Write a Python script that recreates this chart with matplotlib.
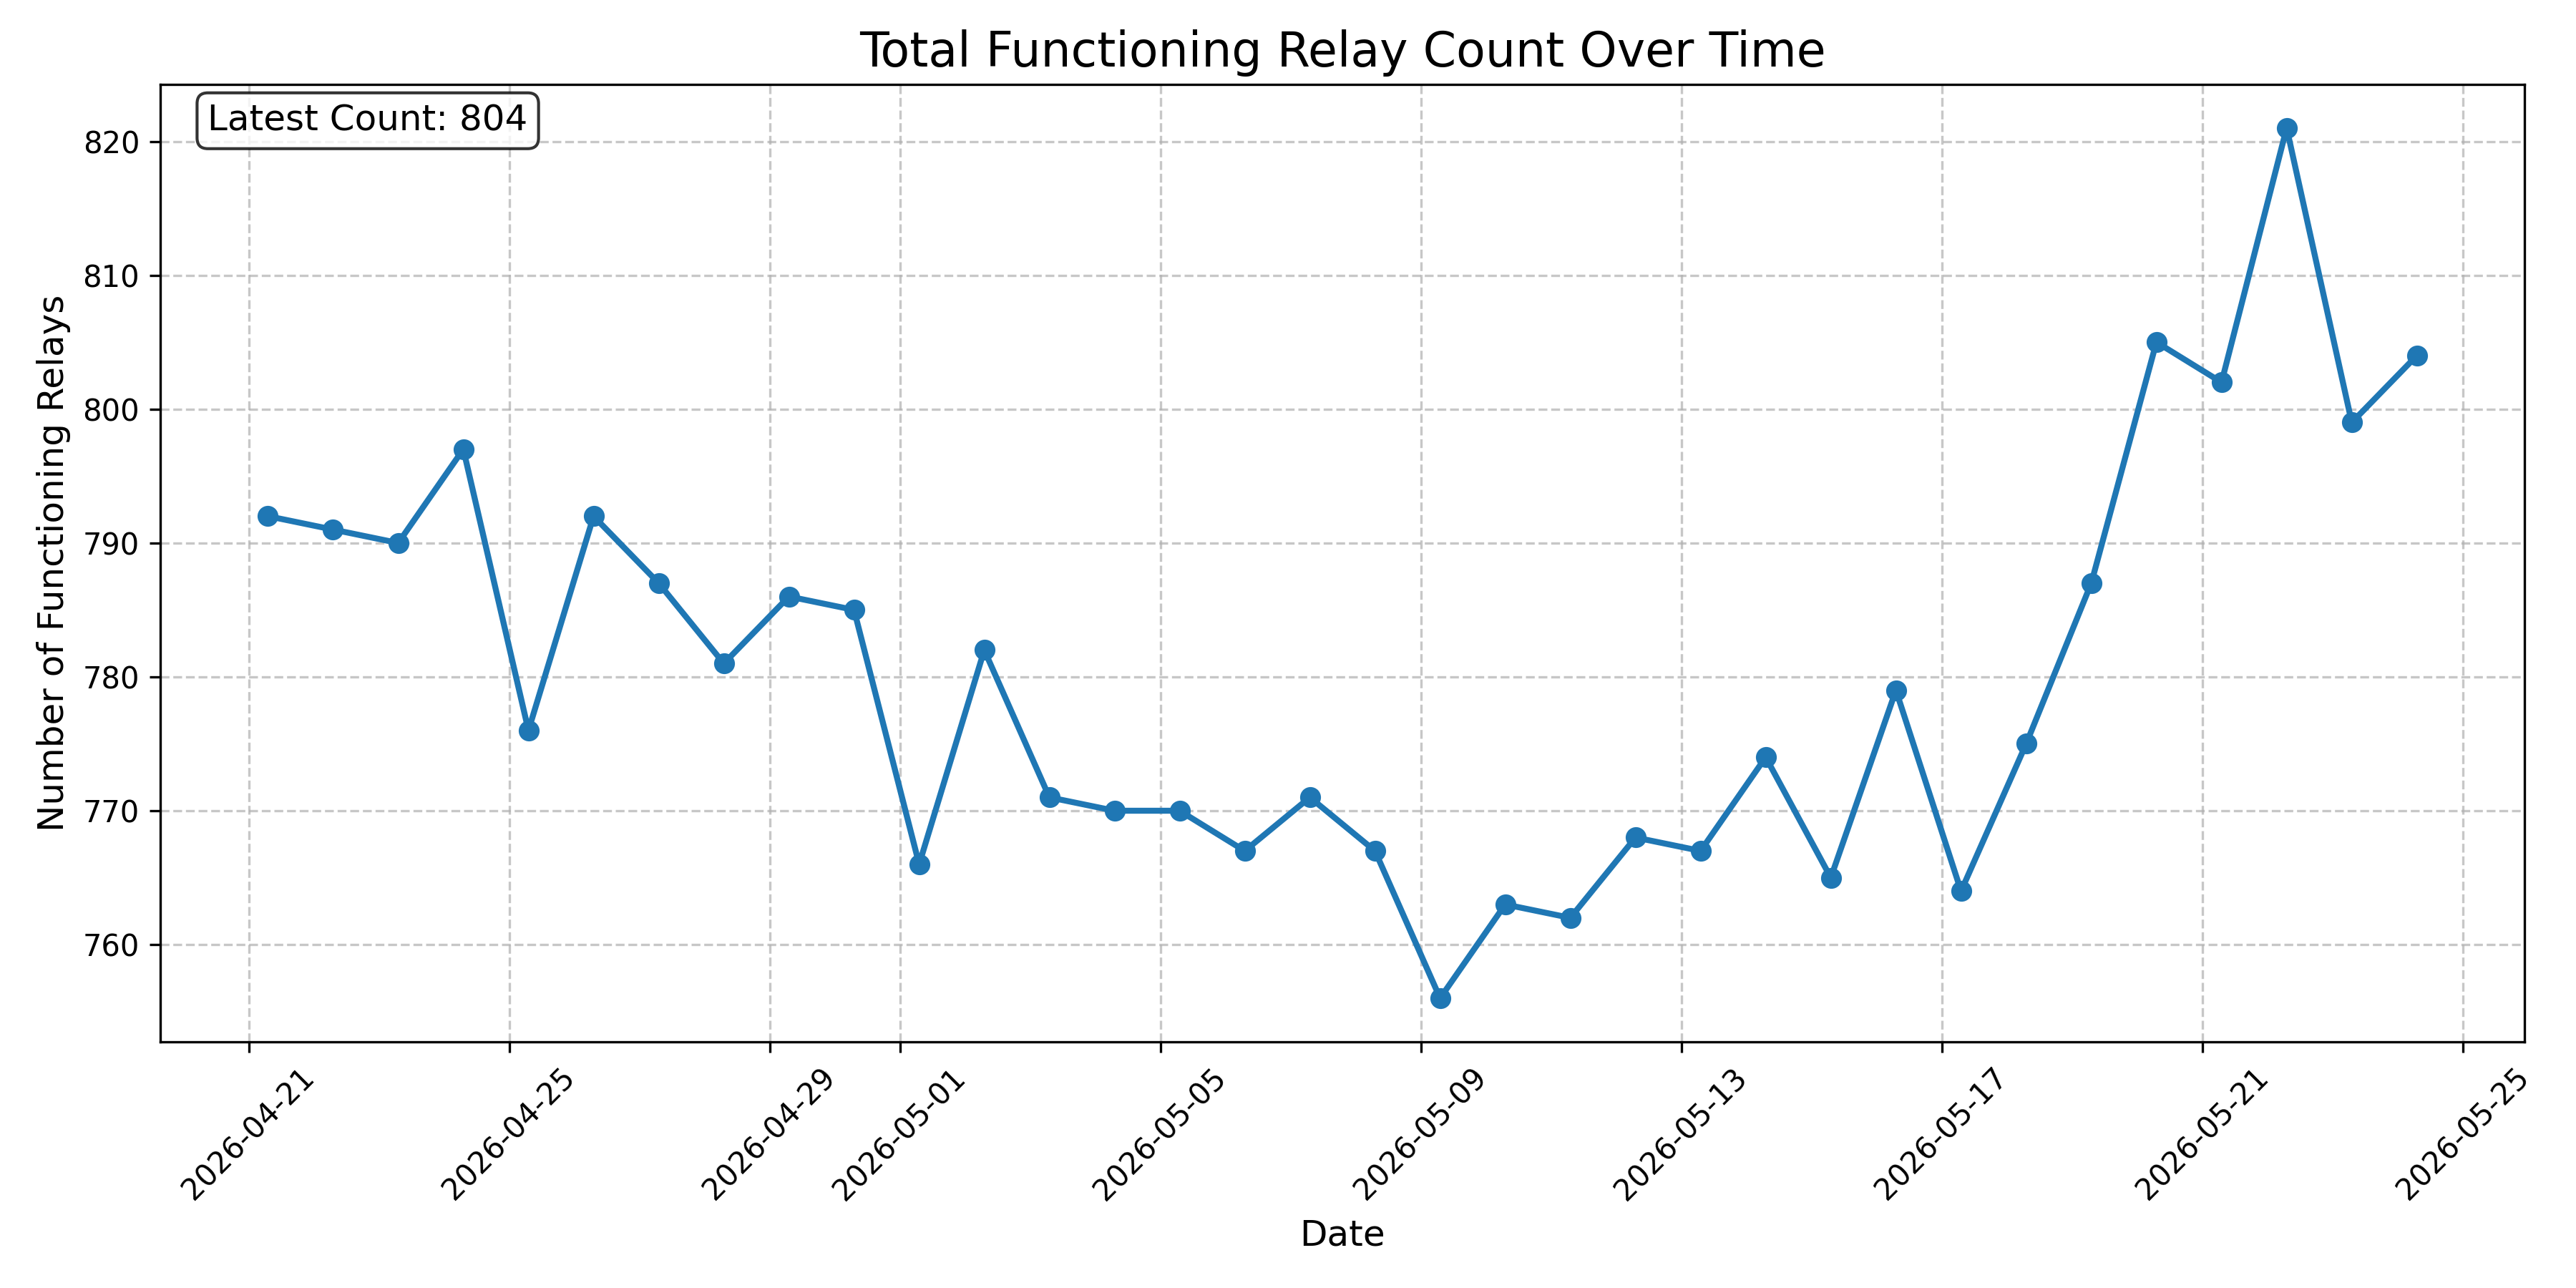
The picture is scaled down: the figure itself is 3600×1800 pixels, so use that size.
import pandas as pd
import matplotlib as mpl
mpl.use('Agg')
import matplotlib.pyplot as plt
import matplotlib.dates as mdates

# daily relay counts, one sample per day taken in the morning
start = '2026-04-21 07:00'
counts = [792, 791, 790, 797, 776, 792, 787, 781, 786, 785,
          766, 782, 771, 770, 770, 767, 771, 767, 756, 763,
          762, 768, 767, 774, 765, 779, 764, 775, 787, 805,
          802, 821, 799, 804]
dates = pd.date_range(start, periods=len(counts), freq='D')

fig, ax = plt.subplots(figsize=(12, 6))
ax.plot(dates, counts, marker='o', linestyle='-', linewidth=2, markersize=6,
        color='#1f77b4')

ax.set_title('Total Functioning Relay Count Over Time', fontsize=16)
ax.set_xlabel('Date', fontsize=12)
ax.set_ylabel('Number of Functioning Relays', fontsize=12)
ax.grid(True, linestyle='--', alpha=0.7)

# default auto locator picks days 1, 5, 9, ... of each month
ax.xaxis.set_major_locator(mdates.AutoDateLocator())
ax.xaxis.set_major_formatter(mdates.DateFormatter('%Y-%m-%d'))
plt.setp(ax.get_xticklabels(), rotation=45)

ax.text(0.02, 0.98, f'Latest Count: {counts[-1]}', transform=ax.transAxes,
        fontsize=12, va='top',
        bbox=dict(boxstyle='round', facecolor='white', alpha=0.8))

fig.tight_layout()
fig.savefig('out.png', dpi=300)
